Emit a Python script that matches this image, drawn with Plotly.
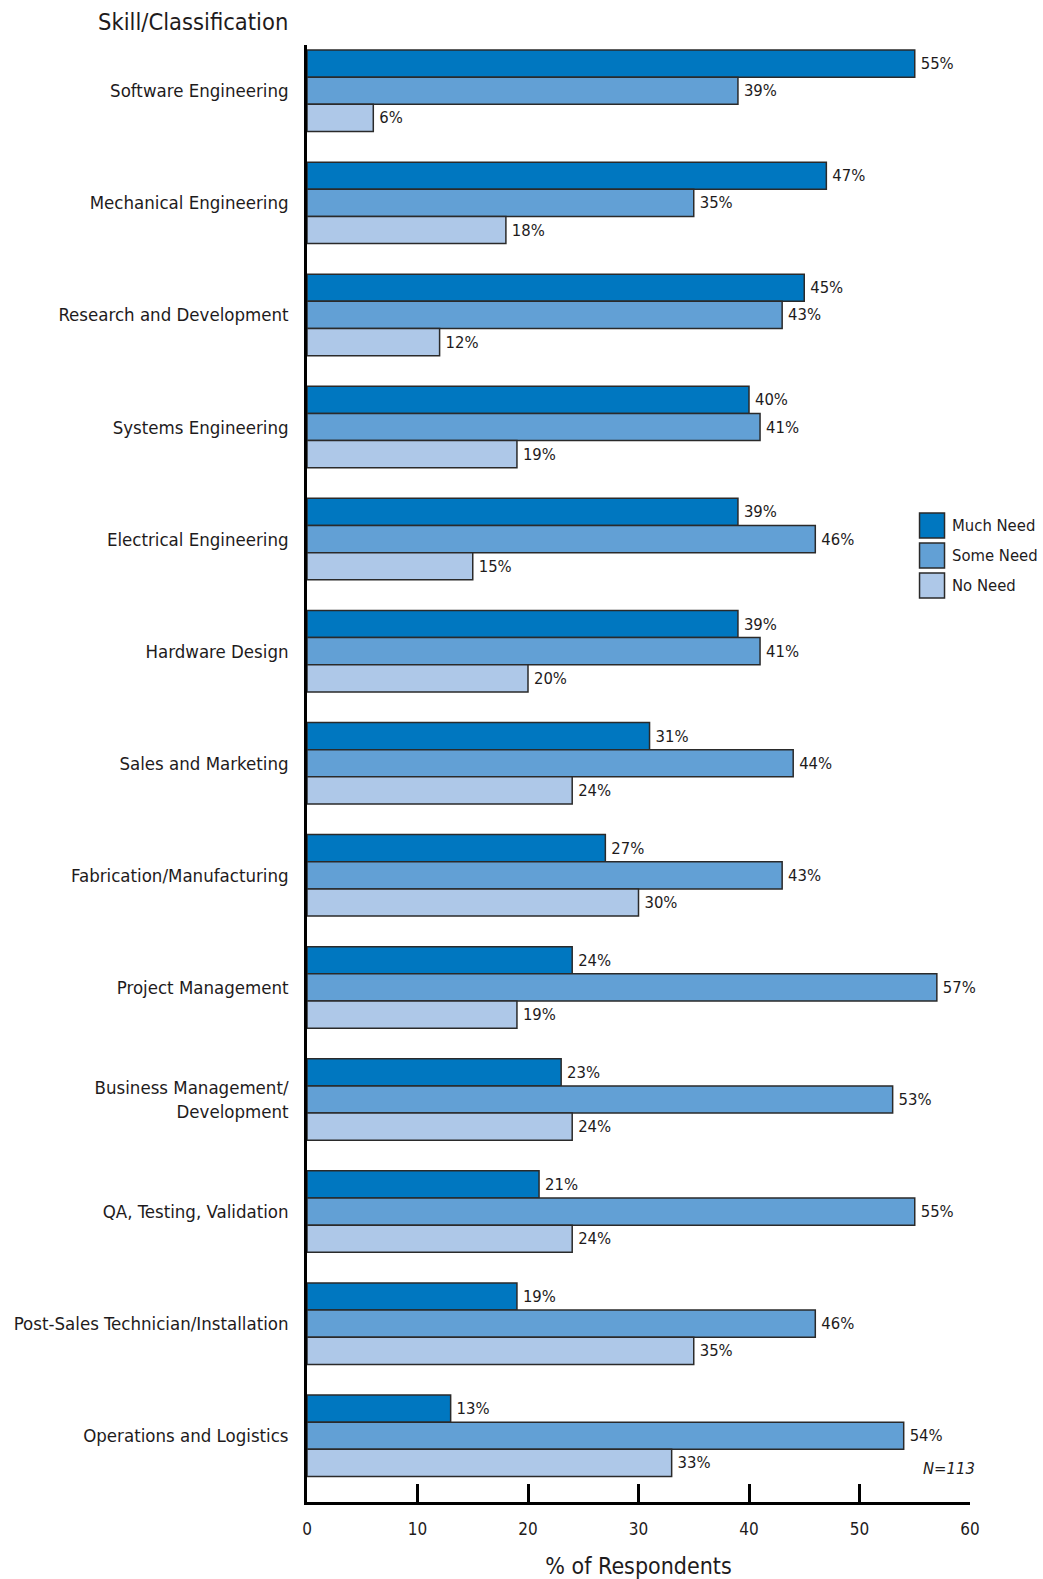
import plotly.graph_objects as go

# Survey results: need for additional staff by skill area
skills = [
    "Software Engineering",
    "Mechanical Engineering",
    "Research and Development",
    "Systems Engineering",
    "Electrical Engineering",
    "Hardware Design",
    "Sales and Marketing",
    "Fabrication/Manufacturing",
    "Project Management",
    "Business Management/<br>Development",
    "QA, Testing, Validation",
    "Post-Sales Technician/Installation",
    "Operations and Logistics",
]
much_need = [55, 47, 45, 40, 39, 39, 31, 27, 24, 23, 21, 19, 13]
some_need = [39, 35, 43, 41, 46, 41, 44, 43, 57, 53, 55, 46, 54]
no_need = [6, 18, 12, 19, 15, 20, 24, 30, 19, 24, 24, 35, 33]

series_names = ["Much Need", "Some Need", "No Need"]
series_values = [much_need, some_need, no_need]
series_colors = ["#0077C0", "#62A0D5", "#AEC8E8"]

x_ticks = [0, 10, 20, 30, 40, 50, 60]
sample_note = "N=113"

FONT = "Liberation Sans Narrow, Arial Narrow, DejaVu Sans Condensed, sans-serif"
TEXT = "#1e1b1c"
EDGE = "#2a2a2a"

W, H = 1043, 1579
L, R, T, B = 307, 72.5, 45, 77
PW, PH = W - L - R, H - T - B


def px_x(p):
    return (p - L) / PW


def px_y(p):
    return 1 - (p - T) / PH


fig = go.Figure()
for name, vals, col in zip(series_names, series_values, series_colors):
    fig.add_trace(go.Bar(
        y=skills, x=vals, name=name, orientation="h",
        marker=dict(color=col, line=dict(color=EDGE, width=1.5)),
        # thin space keeps the value clear of the bar end
        text=[f"\u2009{v}%" for v in vals], textposition="outside",
        textfont=dict(family=FONT, size=16.5, color=TEXT),
        constraintext="none", cliponaxis=False, showlegend=False,
    ))

fig.update_layout(
    width=W, height=H,
    margin=dict(l=L, r=R, t=T, b=B, autoexpand=False),
    paper_bgcolor="white", plot_bgcolor="white",
    barmode="group", bargap=0.273, bargroupgap=0,
    font=dict(family=FONT, color=TEXT),
)

fig.update_xaxes(
    range=[0, 60], tickvals=x_ticks, ticks="inside", ticklen=18,
    tickwidth=2.5, tickcolor="black", showline=True, linecolor="black",
    linewidth=2.5, showgrid=False, zeroline=False, automargin=False,
    tickfont=dict(family=FONT, size=17, color=TEXT), ticklabelstandoff=10,
    title=dict(text="% of Respondents", font=dict(family=FONT, size=23, color=TEXT),
               standoff=22),
)
fig.update_yaxes(
    categoryorder="array", categoryarray=skills,
    range=[12.5914, -0.4086], showline=True, linecolor="black", linewidth=2.5,
    ticks="", showgrid=False, zeroline=False, automargin=False,
    tickfont=dict(family=FONT, size=18.5, color=TEXT), ticklabelstandoff=12,
)

# Axis heading above the category labels
fig.add_annotation(
    text="Skill/Classification", xref="paper", yref="paper",
    x=px_x(96), y=px_y(22), xanchor="left", yanchor="middle", showarrow=False,
    font=dict(family=FONT, size=23.5, color=TEXT),
)

# Legend drawn as boxes with labels
for i, (name, col) in enumerate(zip(series_names, series_colors)):
    top = 513 + 30 * i
    fig.add_shape(
        type="rect", xref="paper", yref="paper",
        x0=px_x(920), x1=px_x(945), y0=px_y(top), y1=px_y(top + 25),
        fillcolor=col, line=dict(color=EDGE, width=1.5),
    )
    fig.add_annotation(
        text=name, xref="paper", yref="paper",
        x=px_x(950), y=px_y(top + 12.5), xanchor="left", yanchor="middle",
        showarrow=False, font=dict(family=FONT, size=16.5, color=TEXT),
    )

fig.add_annotation(
    text=f"<i>{sample_note}</i>", xref="paper", yref="paper",
    x=px_x(978), y=px_y(1468), xanchor="right", yanchor="middle",
    showarrow=False, font=dict(family=FONT, size=16.5, color=TEXT),
)

fig.write_html("out.html")
